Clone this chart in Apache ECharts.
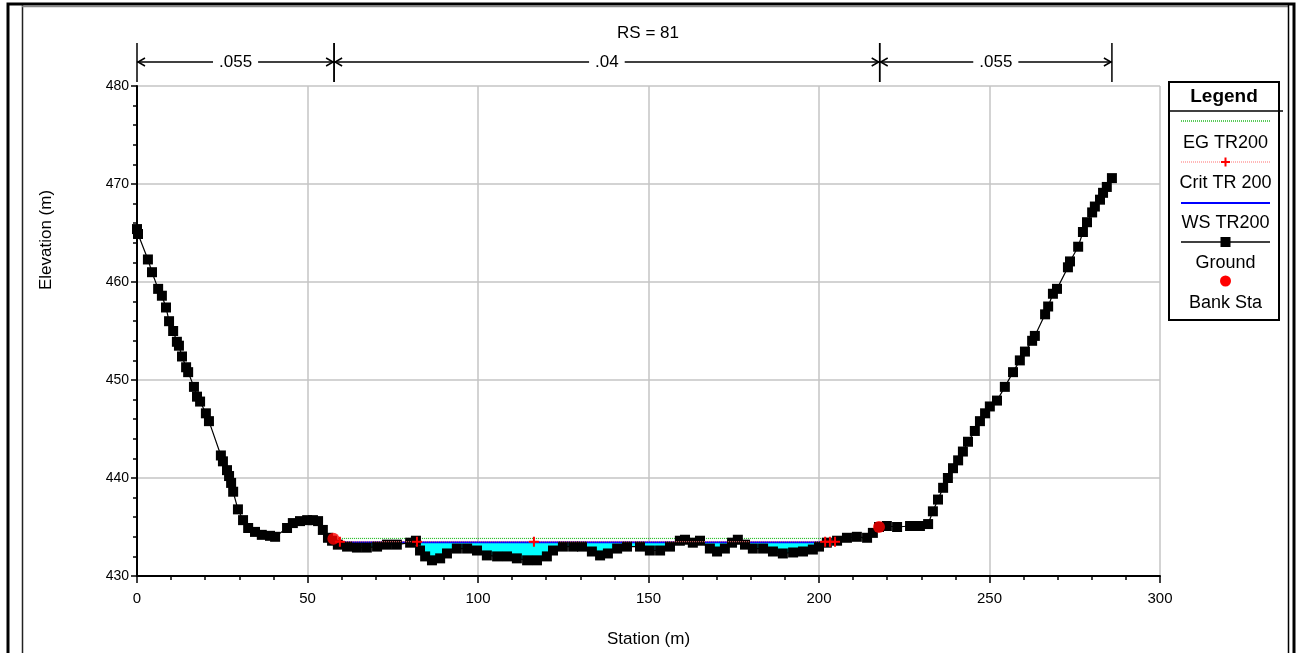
<!DOCTYPE html>
<html><head><meta charset="utf-8">
<script src="https://cdn.jsdelivr.net/npm/echarts@6/dist/echarts.min.js"></script>
<style>html,body{margin:0;padding:0;background:#fff}#c{width:1296px;height:653px}</style>
</head><body><div id="c"></div>
<script>
const titleText = 'RS = 81';
const xAxisName = 'Station (m)';
const yAxisName = 'Elevation (m)';
const groundStation = [0,0.3,3.2,4.4,6.2,7.3,8.5,9.4,10.6,11.7,12.3,13.2,14.4,15.0,16.7,17.6,18.5,20.2,21.1,24.6,25.2,26.4,27.0,27.6,28.2,29.6,31.1,32.6,34.6,36.6,39.0,40.5,44.0,45.7,47.8,49.9,51.6,53.1,54.5,56.0,57.2,58.9,61.6,64.5,67.4,70.4,73.3,76.2,80.1,81.8,83.0,84.5,86.5,88.9,90.9,93.8,96.8,99.7,102.6,105.6,108.5,111.4,114.4,117.3,120.2,122.0,124.9,127.9,130.5,133.4,135.8,138.1,140.8,143.7,147.5,150.4,153.4,156.3,159.2,160.7,163.0,165.1,168.0,170.1,172.4,174.5,176.2,178.3,180.6,183.6,186.5,189.4,192.4,195.3,198.2,200.0,202.3,205.3,208.2,211.1,214.1,215.8,217.6,219.9,222.9,226.7,229.6,232.0,233.4,234.9,236.4,237.8,239.3,240.8,242.2,243.7,245.7,247.2,248.7,250.1,252.2,254.5,256.9,258.9,260.4,262.5,263.3,266.3,267.2,268.6,269.8,273.0,273.6,276.0,277.4,278.6,280.1,280.9,282.4,283.3,284.4,285.9];
const groundElev = [465.4,464.9,462.3,461.0,459.3,458.6,457.4,456.0,455.0,453.9,453.5,452.4,451.3,450.8,449.3,448.3,447.8,446.6,445.8,442.3,441.7,440.8,440.2,439.5,438.6,436.8,435.7,434.9,434.5,434.2,434.1,434.0,434.9,435.4,435.6,435.7,435.7,435.6,434.7,433.9,433.6,433.2,433.0,432.9,432.9,433.0,433.2,433.2,433.4,433.6,432.6,432.0,431.6,431.8,432.3,432.8,432.8,432.6,432.1,432.0,432.0,431.8,431.6,431.6,432.0,432.6,433.0,433.0,433.0,432.5,432.1,432.3,432.8,433.0,433.0,432.6,432.6,433.0,433.6,433.7,433.4,433.6,432.8,432.5,432.8,433.4,433.7,433.2,432.8,432.8,432.5,432.3,432.4,432.5,432.7,433.0,433.4,433.6,433.9,434.0,433.9,434.4,435.0,435.1,435.0,435.1,435.1,435.3,436.6,437.8,439.0,440.0,441.0,441.8,442.7,443.7,444.8,445.8,446.6,447.3,447.9,449.3,450.8,452.0,452.9,454.0,454.5,456.7,457.5,458.8,459.3,461.5,462.1,463.6,465.1,466.1,467.1,467.7,468.4,469.1,469.7,470.6];
const wsStation = [57.8, 202.0];
const wsElev = [433.45, 433.45];
const egStation = [57.8, 214.0];
const egElev = [433.83, 433.83];
const critStation = [59.5, 82.1, 116.4, 201.8, 203.2, 204.7];
const critElev = [433.5, 433.5, 433.5, 433.5, 433.5, 433.5];
const bankStation = [57.6, 217.6];
const bankElev = [433.8, 435.0];
const manningBounds = [0, 57.8, 217.8, 285.9];
const manningValues = ['.055', '.04', '.055'];
const legendTitle = 'Legend';
const legendLabels = ['EG TR200', 'Crit TR 200', 'WS TR200', 'Ground', 'Bank Sta'];

const FONT = "'Liberation Sans', Arial, sans-serif";
const zip = (a, b) => a.map((v, i) => [v, b[i]]);
const plusPath = 'path://M4,0h2v4h4v2h-4v4h-2v-4h-4v-2h4z';

const chart = echarts.init(document.getElementById('c'), null, {renderer: 'canvas'});

const LX1 = 1181, LX2 = 1270, LC = (LX1 + LX2) / 2;
const symY = [121, 162, 203, 242, 281];
const labY = [143, 183, 223, 263, 303];
const legendEls = [
  {type: 'rect', z: 10, shape: {x: 1169, y: 82, width: 110, height: 238}, style: {fill: '#fff', stroke: '#000', lineWidth: 2}},
  {type: 'line', z: 11, shape: {x1: 1169, y1: 111, x2: 1283, y2: 111}, style: {stroke: '#000', lineWidth: 1.5}},
  {type: 'text', z: 11, style: {text: legendTitle, x: 1224, y: 97, align: 'center', verticalAlign: 'middle', font: 'bold 19px ' + FONT, fill: '#000'}},
  {type: 'line', z: 11, shape: {x1: LX1, y1: symY[0], x2: LX2, y2: symY[0]}, style: {stroke: '#22bb22', lineWidth: 1.5, lineDash: [1, 1]}},
  {type: 'line', z: 11, shape: {x1: LX1, y1: symY[1], x2: LX2, y2: symY[1]}, style: {stroke: '#ff7070', lineWidth: 1.2, lineDash: [1, 1]}},
  {type: 'rect', z: 12, shape: {x: LC - 4.5, y: symY[1] - 1, width: 9, height: 2}, style: {fill: '#ff0000'}},
  {type: 'rect', z: 12, shape: {x: LC - 1, y: symY[1] - 4.5, width: 2, height: 9}, style: {fill: '#ff0000'}},
  {type: 'line', z: 11, shape: {x1: LX1, y1: symY[2], x2: LX2, y2: symY[2]}, style: {stroke: '#0000ff', lineWidth: 2}},
  {type: 'line', z: 11, shape: {x1: LX1, y1: symY[3], x2: LX2, y2: symY[3]}, style: {stroke: '#000', lineWidth: 1.5}},
  {type: 'rect', z: 12, shape: {x: LC - 5, y: symY[3] - 5, width: 10, height: 10}, style: {fill: '#000'}},
  {type: 'circle', z: 12, shape: {cx: LC, cy: symY[4], r: 5.5}, style: {fill: '#ff0000'}}
];
legendLabels.forEach((t, i) => legendEls.push({type: 'text', z: 11, style: {text: t, x: LC, y: labY[i], align: 'center', verticalAlign: 'middle', font: '18px ' + FONT, fill: '#000'}}));

const frameEls = [
  {type: 'rect', z: 20, shape: {x: 8, y: 4, width: 1286, height: 680}, style: {fill: null, stroke: '#000', lineWidth: 3}},
  {type: 'line', z: 20, shape: {x1: 22.5, y1: 5, x2: 22.5, y2: 653}, style: {stroke: '#222', lineWidth: 1.5}},
  {type: 'line', z: 20, shape: {x1: 22, y1: 6.5, x2: 1289, y2: 6.5}, style: {stroke: '#888', lineWidth: 1.5}},
  {type: 'line', z: 20, shape: {x1: 1288.5, y1: 5, x2: 1288.5, y2: 653}, style: {stroke: '#000', lineWidth: 1.5}},
  {type: 'text', z: 11, x: 46, y: 240, rotation: Math.PI / 2, style: {text: yAxisName, x: 0, y: 0, align: 'center', verticalAlign: 'middle', font: '17px ' + FONT, fill: '#000'}}
];

const option = {
  animation: false,
  backgroundColor: '#fff',
  title: {text: titleText, left: 'center', top: 20, textStyle: {fontSize: 17, fontWeight: 'normal', fontFamily: FONT, color: '#000'}},
  grid: {left: 137, right: 136, top: 86, bottom: 75},
  xAxis: {
    type: 'value', min: 0, max: 300, interval: 50,
    name: xAxisName, nameLocation: 'middle', nameGap: 55,
    nameTextStyle: {fontSize: 17, fontFamily: FONT, color: '#000'},
    axisLine: {onZero: false, lineStyle: {color: '#000', width: 2}},
    axisTick: {length: 7, lineStyle: {color: '#000', width: 1.5}},
    minorTick: {show: true, splitNumber: 5, length: 4, lineStyle: {color: '#000', width: 1.5}},
    axisLabel: {fontSize: 15, fontFamily: FONT, color: '#000', margin: 15},
    splitLine: {show: true, lineStyle: {color: '#c4c4c4', width: 1.5}}
  },
  yAxis: {
    type: 'value', min: 430, max: 480, interval: 10,
    axisLine: {show: true, onZero: false, lineStyle: {color: '#000', width: 2}},
    axisTick: {show: true, length: 6, lineStyle: {color: '#000', width: 1.5}},
    minorTick: {show: true, splitNumber: 5, length: 4, lineStyle: {color: '#000', width: 1.5}},
    axisLabel: {fontSize: 14, fontFamily: FONT, color: '#000', margin: 8},
    splitLine: {show: true, lineStyle: {color: '#c4c4c4', width: 1.5}}
  },
  graphic: legendEls.concat(frameEls),
  series: [
    {
      type: 'custom', name: 'water', z: 1, silent: true, clip: true,
      data: [[wsStation[0], wsStation[1], wsElev[0]]],
      renderItem: function (params, api) {
        const s0 = api.value(0), s1 = api.value(1), ws = api.value(2);
        const pts = [api.coord([s0, ws])];
        for (let i = 0; i < groundStation.length; i++) {
          const s = groundStation[i];
          if (s > s0 && s < s1) pts.push(api.coord([s, Math.min(groundElev[i], ws)]));
        }
        pts.push(api.coord([s1, ws]));
        return {type: 'polygon', shape: {points: pts}, style: {fill: '#00ffff'}};
      }
    },
    {type: 'line', name: 'EG TR200', z: 3, data: zip(egStation, egElev), showSymbol: false, lineStyle: {color: '#22bb22', width: 1.2, type: [1, 1]}},
    {type: 'line', name: 'WS TR200', z: 3, data: zip(wsStation, wsElev), showSymbol: false, lineStyle: {color: '#0000ff', width: 2}},
    {type: 'line', name: 'Ground', z: 5, data: zip(groundStation, groundElev), symbol: 'rect', symbolSize: 10, showAllSymbol: true,
      itemStyle: {color: '#000'}, lineStyle: {color: '#000', width: 1.2}},
    {type: 'line', name: 'Crit TR200', z: 6, data: zip(critStation, critElev), symbol: plusPath, symbolSize: 10, showAllSymbol: true,
      itemStyle: {color: '#ff0000'}, lineStyle: {color: '#ff7070', width: 1, type: [1, 1]}},
    {type: 'scatter', name: 'Bank Sta', z: 7, data: zip(bankStation, bankElev), symbol: 'circle', symbolSize: 12, itemStyle: {color: '#ff0000'}},
    {
      type: 'custom', name: 'manning', z: 7, silent: true, clip: false,
      data: manningValues.map((v, i) => [manningBounds[i], manningBounds[i + 1], i]),
      renderItem: function (params, api) {
        const p1 = api.coord([api.value(0), 480]);
        const x1 = p1[0], x2 = api.coord([api.value(1), 480])[0];
        const top = p1[1];
        const yTop = top - 43, yBot = top - 4, yMid = top - 24;
        const st = {stroke: '#000', lineWidth: 1.5, fill: null};
        return {
          type: 'group', children: [
            {type: 'line', shape: {x1: x1, y1: yTop, x2: x1, y2: yBot}, style: st},
            {type: 'line', shape: {x1: x2, y1: yTop, x2: x2, y2: yBot}, style: st},
            {type: 'line', shape: {x1: x1, y1: yMid, x2: x2, y2: yMid}, style: st},
            {type: 'polyline', shape: {points: [[x1 + 8, yMid - 4], [x1 + 1, yMid], [x1 + 8, yMid + 4]]}, style: st},
            {type: 'polyline', shape: {points: [[x2 - 8, yMid - 4], [x2 - 1, yMid], [x2 - 8, yMid + 4]]}, style: st},
            {type: 'text', style: {text: manningValues[api.value(2)], x: (x1 + x2) / 2, y: yMid, align: 'center', verticalAlign: 'middle',
              font: '17px ' + FONT, fill: '#000', backgroundColor: '#fff', padding: [0, 6]}}
          ]
        };
      }
    }
  ]
};
chart.setOption(option);
</script></body></html>
